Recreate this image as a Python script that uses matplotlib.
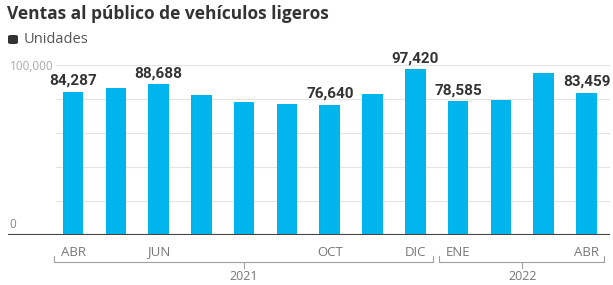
import numpy as np
import matplotlib
matplotlib.use("Agg")
import matplotlib.pyplot as plt
from matplotlib.transforms import blended_transform_factory
from matplotlib.patches import FancyBboxPatch

# data
MONTHS = ["ABR", "MAY", "JUN", "JUL", "AGO", "SEP", "OCT",
          "NOV", "DIC", "ENE", "FEB", "MAR", "ABR"]
UNITS = [84287, 86600, 88688, 82400, 78400, 77100, 76640,
         82900, 97420, 78585, 79600, 95100, 83459]
LABELED = [0, 2, 6, 8, 9, 12]          # bars with value + month label
YEARS = ["2021", "2022"]
YEAR_SPANS = [(0, 8), (9, 12)]          # first / last bar index per year
GRID_VALUES = [20000, 40000, 60000, 80000, 100000]

BAR = "#00b4ec"
DARK = "#333333"
FONT = ["Roboto", "DejaVu Sans"]
FONT2 = ["Open Sans", "DejaVu Sans"]

W, H = 613, 285


def fy(px):
    # pixel row (from top) -> figure fraction
    return (H - px) / H


fig = plt.figure(figsize=(W / 100, H / 100), dpi=100)
ax_left, ax_right = 8, 610
ax_top, ax_bot = 56.5, 235
ax = fig.add_axes([ax_left / W, fy(ax_bot), (ax_right - ax_left) / W,
                   (ax_bot - ax_top) / H])

x = np.arange(len(UNITS))
ax.bar(x, UNITS, width=0.48, color=BAR, zorder=3)
ax.set_xlim(-1.52, 12.55)
ax.set_ylim(0, 105000)

for spine in ax.spines.values():
    spine.set_visible(False)
ax.set_yticks([])
ax.set_xticks([])

grid_start = (56 - ax_left) / (ax_right - ax_left)
for g in GRID_VALUES:
    ax.axhline(g, xmin=grid_start, xmax=1, color="#e4e4e4", lw=0.8, zorder=1)
ax.axhline(0, color="#444444", lw=1.5, zorder=4)

ytr = blended_transform_factory(ax.transAxes, ax.transData)
ax.text(0.003, 99000, "100,000", transform=ytr, ha="left", va="center",
        fontsize=8.5, color="#aaaaaa", family=FONT2)
ax.text(0.003, 2500, "0", transform=ytr, ha="left", va="bottom",
        fontsize=8.5, color="#888888", family=FONT2)

# value labels
for i in LABELED:
    ax.annotate(f"{UNITS[i]:,}", (x[i], UNITS[i]), xytext=(0, 3),
                textcoords="offset points", ha="center", va="bottom",
                fontsize=11, fontweight="bold", color=DARK, family=FONT,
                zorder=5)

# month labels + year brackets, x in data units, y in figure pixels
tr = blended_transform_factory(ax.transData, fig.transFigure)
for i in LABELED:
    fig.text(x[i], fy(252), MONTHS[i], transform=tr, ha="center",
             va="center", fontsize=9.5, color="#777777", family=FONT2)

for year, (a, b) in zip(YEARS, YEAR_SPANS):
    x0, x1 = a - 0.45, b + 0.42
    xm = (a + b) / 2
    kw = dict(transform=tr, color="#a0a0a0", lw=0.8, clip_on=False)
    fig.add_artist(plt.Line2D([x0, x0, x1, x1],
                              [fy(256), fy(262), fy(262), fy(256)], **kw))
    fig.add_artist(plt.Line2D([xm, xm], [fy(262), fy(268)], **kw))
    fig.text(xm, fy(270.5), year, transform=tr, ha="center", va="top",
             fontsize=9, color="#777777", family=FONT2)

# title and legend
fig.text(7 / W, fy(14), "Ventas al público de vehículos ligeros",
         ha="left", va="center", fontsize=12.5, fontweight="bold",
         color=DARK, family=FONT2)
fig.add_artist(FancyBboxPatch((8 / W, fy(44)), 10 / W, 9 / H,
                              boxstyle="round,pad=0,rounding_size=0.005",
                              transform=fig.transFigure, color=DARK, lw=0))
fig.text(24 / W, fy(39.5), "Unidades", ha="left", va="center",
         fontsize=10.5, color="#555555", family=FONT2)

fig.savefig("out.png", dpi=100)
